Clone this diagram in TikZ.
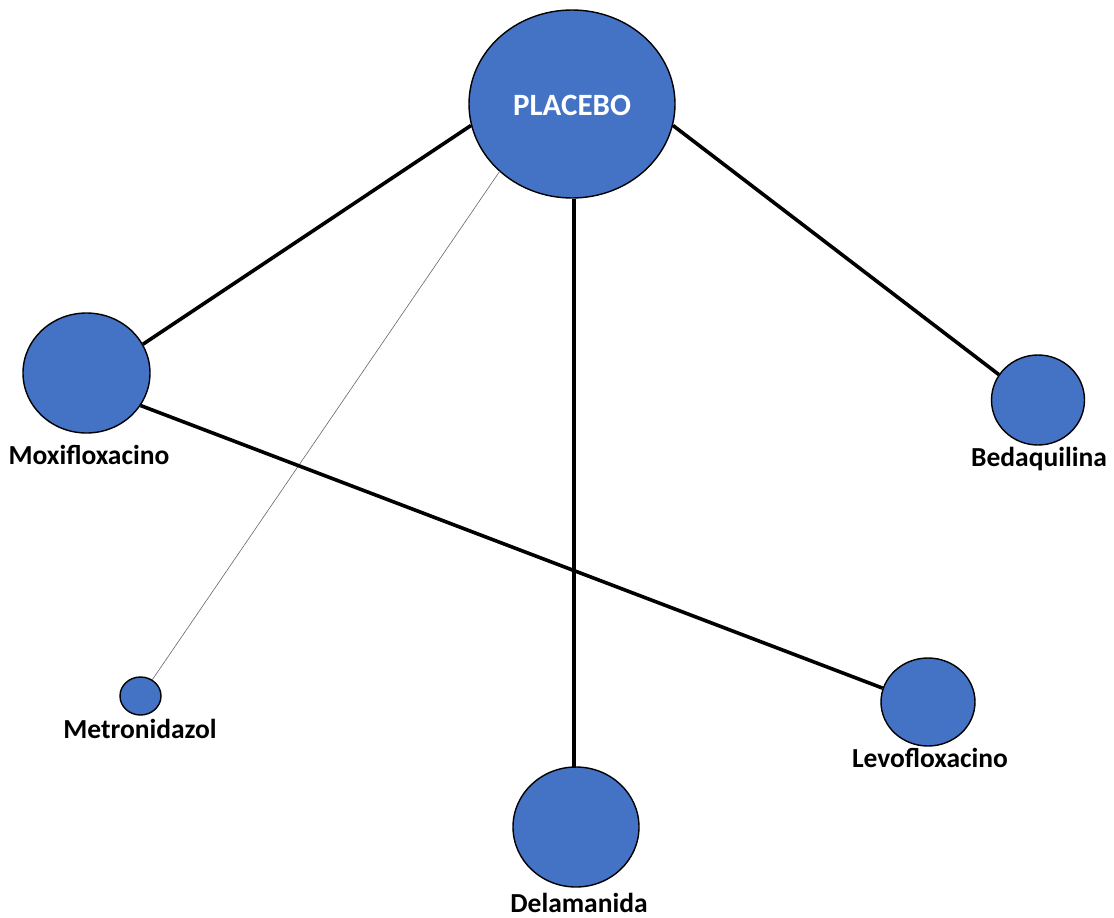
\documentclass[tikz,border=0pt]{standalone}
\usepackage{fontspec}
\setmainfont{Carlito}
\usetikzlibrary{shapes.geometric}
\definecolor{nodeblue}{HTML}{4472C4}
\tikzset{
  drug/.style={ellipse, draw=black, line width=1.4pt, fill=nodeblue, inner sep=0pt},
  lbl/.style={font=\bfseries\fontsize{27.5}{30}\selectfont, text=black, inner sep=0pt},
  thickedge/.style={line width=3.6pt, black},
  thinedge/.style={line width=0.6pt, black!60}
}
\begin{document}
\begin{tikzpicture}[x=1pt,y=-1pt]
\useasboundingbox (0,0) rectangle (1114,918);
\node[drug, minimum width=206, minimum height=188] (P) at (572,104) {};
\node[font=\bfseries\fontsize{31}{34}\selectfont, text=white] (Pl) at (572,105) {PLACEBO};
\node[drug, minimum width=127, minimum height=120] (M) at (86.5,373) {};
\node[drug, minimum width=93, minimum height=90] (B) at (1038,400) {};
\node[drug, minimum width=41, minimum height=38] (T) at (140.5,696) {};
\node[drug, minimum width=94, minimum height=88] (L) at (928,702) {};
\node[drug, minimum width=126, minimum height=120] (D) at (576,827) {};
\node[lbl] (Ml) at (89,455) {Moxifloxacino};
\node[lbl] (Bl) at (1039,459) {Bedaquilina};
\node[lbl] (Tl) at (140,729) {Metronidazol};
\node[lbl] (Ll) at (930,758) {Levofloxacino};
\node[lbl] (Dl) at (579,903) {Delamanida};
\coordinate (Dtop) at (574,768);
\draw[thickedge] (P.192.5) -- (M.27);
\draw[thickedge] (P.-12) -- (B.147);
\draw[thickedge] (P.south -| Dtop) -- (Dtop);
\draw[thinedge] (P.223.7) -- (T.54);
\draw[thickedge] (M.-31) -- (L.163);
\end{tikzpicture}
\end{document}
